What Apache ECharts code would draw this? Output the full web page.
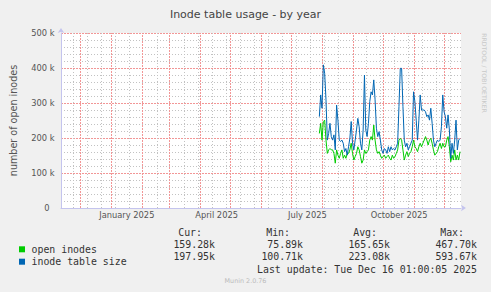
<!DOCTYPE html>
<html>
<head>
<meta charset="utf-8">
<script src="https://cdn.jsdelivr.net/npm/echarts@6/dist/echarts.min.js"></script>
<style>html,body{margin:0;padding:0;background:#F0F0F0;}#c{width:491px;height:292px;}</style>
</head>
<body>
<div id="c"></div>
<script>
// ---- data ----
const chartTitle = 'Inode table usage - by year';
const yAxisName = 'number of open inodes';
const axisStartDate = '2024-11-12';
const axisEndDate = '2025-12-18';
const firstSampleDate = '2025-07-29';
const lastSampleDate = '2025-12-17';
const seriesNames = ['open inodes', 'inode table size'];
const seriesColors = ['#00CC00', '#0066B3'];
// values in thousands (k)
const openInodes = [213,242,194,247,251,194,156,166,170,166,166,156,128,166,151,142,156,166,142,151,142,156,156,166,185,156,137,147,156,175,166,147,128,137,166,156,161,166,194,204,194,237,194,166,156,161,151,142,147,151,142,147,151,142,137,151,142,147,156,166,194,199,194,166,137,151,161,147,156,161,175,194,175,170,161,175,185,175,185,194,204,194,180,194,199,185,166,151,156,161,175,185,170,185,175,175,194,204,175,132,151,137,166,137,151,137,161];
const inodeTableSize = [261,323,285,409,385,309,194,213,242,204,194,209,166,294,251,194,190,194,185,161,170,151,175,199,247,185,166,194,223,256,232,185,166,223,380,223,204,242,304,332,323,366,309,228,204,218,194,166,156,170,166,156,175,161,175,166,170,166,175,185,290,399,399,290,194,175,185,166,175,185,194,332,304,251,194,251,323,280,280,280,275,261,266,251,285,242,194,175,185,194,190,194,232,323,275,261,228,266,223,142,185,156,194,251,166,194,199];
const yTicks = [0, 100, 200, 300, 400, 500]; // k
const monthStarts = ['2024-12-01','2025-01-01','2025-02-01','2025-03-01','2025-04-01','2025-05-01','2025-06-01','2025-07-01','2025-08-01','2025-09-01','2025-10-01','2025-11-01','2025-12-01'];
const firstMinorGridDate = '2024-11-24';
const xLabelDates = ['2025-01-17','2025-04-17','2025-07-17','2025-10-17'];
const xLabels = ['January 2025','April 2025','July 2025','October 2025'];
const statHeaders = ['Cur:','Min:','Avg:','Max:'];
const openInodesStats = ['159.28k','75.89k','165.65k','467.70k'];
const inodeTableSizeStats = ['197.95k','100.71k','223.08k','593.67k'];
const lastUpdate = 'Last update: Tue Dec 16 01:00:05 2025';
const footer = 'Munin 2.0.76';
const watermark = 'RRDTOOL / TOBI OETIKER';

// ---- helpers ----
const DAY = 86400000;
const t0 = Date.parse(axisStartDate);
const dayOf = d => (Date.parse(d) - t0) / DAY;
const axisMaxDay = dayOf(axisEndDate);
const firstDay = dayOf(firstSampleDate), lastDay = dayOf(lastSampleDate);
const toPairs = arr => arr.map((v, i) => [firstDay + (lastDay - firstDay) * i / (arr.length - 1), v * 1000]);
const xLabelDays = xLabelDates.map(dayOf);
const monthDays = monthStarts.map(dayOf);
const minorDays = [];
for (let d = dayOf(firstMinorGridDate); d < axisMaxDay; d += 14) {
  if (!monthDays.some(m => Math.abs(m - d) < 1.5)) minorDays.push(d);
}

const FONT = '"DejaVu Sans", sans-serif';
const MONO = '"DejaVu Sans Mono", monospace';
const redGrid = '#f29696';
const greyGrid = '#c2c2c2';
const axisColor = '#c4c4ee';

const colHeaderRight = [202, 290, 377, 464];
const colValueRight = [215, 303, 390, 477];
const graphics = [];
const txt = (x, y, text, align) => ({ type: 'text', x, y, silent: true, style: { text, align, verticalAlign: 'middle', font: '9.9px ' + MONO, fill: '#333' } });
statHeaders.forEach((h, i) => graphics.push(txt(colHeaderRight[i], 232.3, h, 'right')));
openInodesStats.forEach((s, i) => graphics.push(txt(colValueRight[i], 244.3, s, 'right')));
inodeTableSizeStats.forEach((s, i) => graphics.push(txt(colValueRight[i], 256.7, s, 'right')));
graphics.push(txt(477, 269, lastUpdate, 'right'));
graphics.push({ type: 'text', x: 245.5, y: 280.5, silent: true, style: { text: footer, align: 'center', verticalAlign: 'middle', font: '6.4px ' + FONT, fill: '#bbbbbb' } });
graphics.push({ type: 'text', x: 484.5, y: 73, rotation: -Math.PI / 2, silent: true, style: { text: watermark, align: 'center', verticalAlign: 'middle', font: '6.2px ' + FONT, fill: '#c8c8c8' } });

const gridSeries = (name, days, color, dash, z) => ({
  name, type: 'line', data: [], z, silent: true,
  markLine: {
    silent: true, symbol: ['none', 'none'], label: { show: false }, emphasis: { disabled: true }, animation: false, z,
    lineStyle: { color, type: dash, width: 1, opacity: 1 },
    data: days.map(d => ({ xAxis: d }))
  }
});

const chart = echarts.init(document.getElementById('c'), null, { renderer: 'svg' });
chart.setOption({
  animation: false,
  backgroundColor: '#F0F0F0',
  title: { text: chartTitle, left: 'center', top: 4, textStyle: { fontFamily: FONT, fontSize: 11, fontWeight: 'normal', color: '#444' } },
  legend: {
    data: seriesNames, orient: 'vertical', left: 14, top: 238.1, icon: 'rect', itemWidth: 6, itemHeight: 6, itemGap: 0,
    selectedMode: false,
    textStyle: { fontFamily: MONO, fontSize: 9.9, color: '#333', lineHeight: 12.4, padding: [0, 0, 0, 1.5] }
  },
  grid: { left: 60, top: 33, width: 401, height: 175, show: true, backgroundColor: '#FFFFFF', borderWidth: 0 },
  xAxis: {
    type: 'value', min: 0, max: axisMaxDay, interval: 1,
    axisLine: { show: true, lineStyle: { color: axisColor, width: 1 }, symbol: ['none', 'arrow'], symbolSize: [5, 5], symbolOffset: [0, 5] },
    axisTick: { show: false },
    splitLine: { show: false },
    axisLabel: {
      margin: 3, fontFamily: FONT, fontSize: 8.3, color: '#555',
      showMinLabel: true, showMaxLabel: true,
      formatter: v => { const i = xLabelDays.indexOf(Math.round(v)); return i >= 0 ? xLabels[i] : ''; }
    }
  },
  yAxis: {
    type: 'value', min: yTicks[0] * 1000, max: yTicks[yTicks.length - 1] * 1000, interval: (yTicks[1] - yTicks[0]) * 1000,
    name: yAxisName, nameLocation: 'middle', nameRotate: 90, nameGap: 43,
    nameTextStyle: { fontFamily: FONT, fontSize: 9.6, color: '#555' },
    axisLine: { show: true, lineStyle: { color: axisColor, width: 1 }, symbol: ['none', 'arrow'], symbolSize: [5, 5], symbolOffset: [0, 5] },
    axisTick: { show: false },
    minorTick: { show: false, splitNumber: 5 },
    splitLine: { show: true, lineStyle: { color: redGrid, type: [2, 1], width: 1 } },
    minorSplitLine: { show: true, lineStyle: { color: greyGrid, type: [1, 2], width: 1 } },
    axisLabel: {
      margin: 6.5, fontFamily: FONT, fontSize: 8.3, color: '#555',
      formatter: v => v === 0 ? '{z|0}' : (v / 1000) + ' k',
      rich: { z: { fontFamily: FONT, fontSize: 8.3, color: '#555', padding: [0, 5, 0, 0] } }
    }
  },
  series: [
    gridSeries('__minor', minorDays, greyGrid, [1, 2], 1),
    gridSeries('__month', monthDays, redGrid, [2, 1], 2),
    { name: seriesNames[0], type: 'line', data: toPairs(openInodes), showSymbol: false, symbol: 'none', z: 3,
      itemStyle: { color: seriesColors[0] }, lineStyle: { color: seriesColors[0], width: 1 } },
    { name: seriesNames[1], type: 'line', data: toPairs(inodeTableSize), showSymbol: false, symbol: 'none', z: 4,
      itemStyle: { color: seriesColors[1] }, lineStyle: { color: seriesColors[1], width: 1 } }
  ],
  graphic: graphics
});
</script>
</body>
</html>
